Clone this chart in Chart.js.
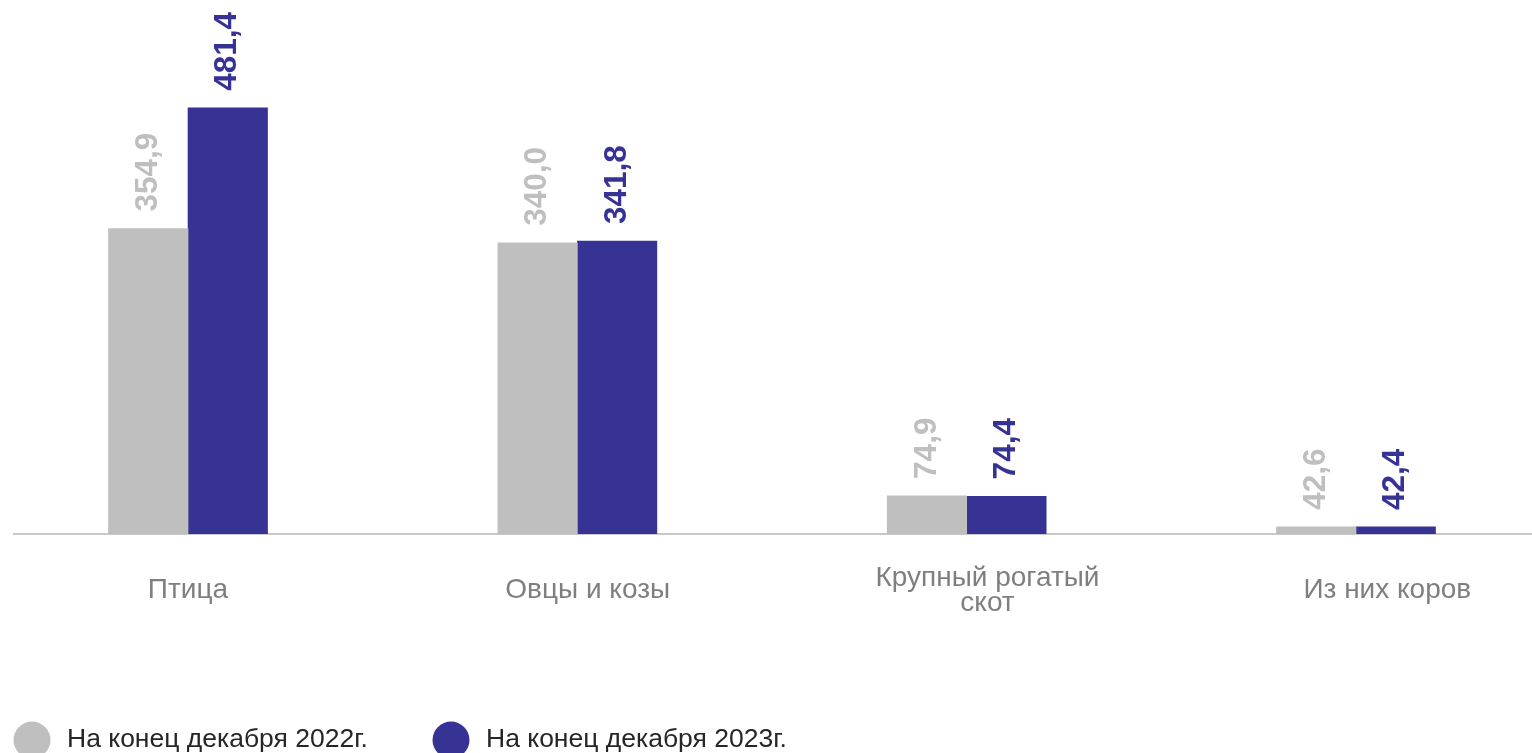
<!DOCTYPE html>
<html>
<head>
<meta charset="utf-8">
<script src="https://cdn.jsdelivr.net/npm/chart.js@4.4.1/dist/chart.umd.min.js"></script>
<style>
html, body { margin: 0; padding: 0; background: #fff; }
#wrap { width: 1532px; height: 753px; position: relative; }
</style>
</head>
<body>
<div id="wrap"><canvas id="chart"></canvas></div>
<script>
var categories = ["Птица", "Овцы и козы", ["Крупный рогатый", "скот"], "Из них коров"];
var seriesNames = ["На конец декабря 2022г.", "На конец декабря 2023г."];
var values2022 = [354.9, 340.0, 74.9, 42.6];
var values2023 = [481.4, 341.8, 74.4, 42.4];
var barColors = ["#bfbfbf", "#373395"];

var FONT = '"Liberation Sans", Arial, sans-serif';

function toPoints(arr) {
    return arr.map(function (v, i) { return { x: i, y: v }; });
}

// value labels, rotated, above each bar
var barLabels = {
    id: 'barLabels',
    afterDatasetsDraw: function (chart) {
        var ctx = chart.ctx;
        chart.data.datasets.forEach(function (ds, di) {
            chart.getDatasetMeta(di).data.forEach(function (bar, i) {
                var v = ds.data[i].y;
                ctx.save();
                ctx.translate(bar.x, bar.y - 17);
                ctx.rotate(-Math.PI / 2);
                ctx.font = 'bold 31.5px ' + FONT;
                ctx.fillStyle = ds.backgroundColor;
                ctx.textAlign = 'left';
                ctx.textBaseline = 'middle';
                ctx.fillText(v.toFixed(1).replace('.', ','), 0, 0);
                ctx.restore();
            });
        });
    }
};

// legend at the bottom left
var bottomLegend = {
    id: 'bottomLegend',
    afterDraw: function (chart) {
        var ctx = chart.ctx;
        var xs = [32, 451];
        chart.data.datasets.forEach(function (ds, di) {
            ctx.save();
            ctx.fillStyle = ds.backgroundColor;
            ctx.beginPath();
            ctx.arc(xs[di], 740, 18.5, 0, Math.PI * 2);
            ctx.fill();
            ctx.font = '26.5px ' + FONT;
            ctx.fillStyle = '#262626';
            ctx.textAlign = 'left';
            ctx.textBaseline = 'alphabetic';
            ctx.fillText(ds.label, xs[di] + 35, 747);
            ctx.restore();
        });
    }
};

new Chart("chart", {
    type: "bar",
    data: {
        datasets: [{
            label: seriesNames[0],
            backgroundColor: barColors[0],
            data: toPoints(values2022),
            xAxisID: 'x',
            barThickness: 79.5
        }, {
            label: seriesNames[1],
            backgroundColor: barColors[1],
            data: toPoints(values2023),
            xAxisID: 'x',
            barThickness: 79.5
        }]
    },
    options: {
        responsive: true,
        maintainAspectRatio: false,
        animation: false,
        layout: { padding: { left: 14, right: 0, top: 0, bottom: 0 } },
        plugins: {
            legend: { display: false },
            tooltip: { enabled: false }
        },
        scales: {
            x: { type: 'linear', display: false, offset: false, bounds: 'data', min: -0.447, max: 3.452 },
            x2: {
                type: 'linear',
                position: 'bottom',
                offset: false,
                bounds: 'data',
                min: -0.435,
                max: 3.362,
                grid: { display: false, drawTicks: false, offset: false },
                border: { display: true, color: '#c9c9c9', width: 2 },
                afterBuildTicks: function (s) {
                    s.ticks = categories.map(function (c, i) { return { value: i }; });
                },
                afterFit: function (s) { s.height = 219; },
                ticks: {
                    autoSkip: false,
                    maxRotation: 0,
                    padding: 44,
                    crossAlign: 'center',
                    color: '#7f7f7f',
                    font: { family: FONT, size: 28, lineHeight: 0.9 },
                    callback: function (v) { return categories[v]; }
                }
            },
            y: { display: false, min: 35, max: 594.2 }
        }
    },
    plugins: [barLabels, bottomLegend]
});
</script>
</body>
</html>
